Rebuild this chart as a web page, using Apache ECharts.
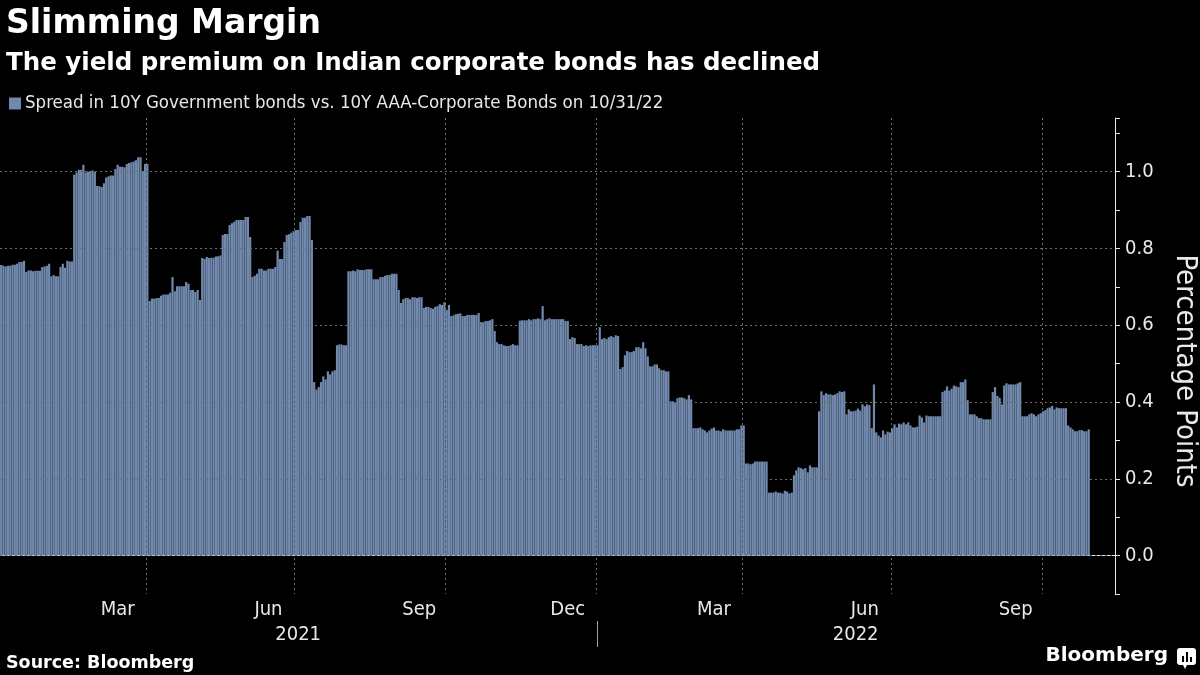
<!DOCTYPE html>
<html>
<head>
<meta charset="utf-8">
<script src="https://cdn.jsdelivr.net/npm/echarts@6/dist/echarts.min.js"></script>
<style>
  html, body { margin: 0; padding: 0; background: #000; }
  #chart { width: 1200px; height: 675px; }
</style>
</head>
<body>
<div id="chart"></div>
<script>
// axis range: business days from the first bar to a little past the last one
const firstDay = '2021-01-01';
const lastAxisDay = '2022-11-15';
const monthNames = ['Jan', 'Feb', 'Mar', 'Apr', 'May', 'Jun', 'Jul', 'Aug', 'Sep', 'Oct', 'Nov', 'Dec'];
const labelMonths = [2, 5, 8, 11];
const gridMonths = [0, 3, 6, 9];
const yLabelValues = [0, 0.2, 0.4, 0.6, 0.8, 1.0];
const seriesName = 'Spread in 10Y Government bonds vs. 10Y AAA-Corporate Bonds on 10/31/22';

// values, one per business day
const spreadJanMar21 = [
  0.757, 0.755, 0.753, 0.755, 0.755, 0.758, 0.758, 0.760, 0.765, 0.765,
  0.768, 0.739, 0.743, 0.743, 0.741, 0.742, 0.742, 0.742, 0.752, 0.753,
  0.755, 0.760, 0.728, 0.731, 0.728, 0.728, 0.752, 0.760, 0.750, 0.768,
  0.766, 0.766, 0.992, 0.998, 1.005, 1.005, 1.018, 0.998, 1.000, 1.002,
  1.003, 1.000, 0.963, 0.962, 0.960, 0.970, 0.985, 0.988, 0.990, 0.990,
  1.007, 1.018, 1.013, 1.013, 1.012, 1.020, 1.023, 1.025, 1.027, 1.030,
  1.038, 1.038, 1.002, 1.020, 1.020
];
const spreadAprJul21 = [
  0.663, 0.670, 0.669, 0.671, 0.671, 0.677, 0.680, 0.680, 0.680, 0.685,
  0.726, 0.689, 0.702, 0.702, 0.702, 0.702, 0.713, 0.708, 0.692, 0.692,
  0.687, 0.692, 0.666, 0.775, 0.773, 0.778, 0.775, 0.776, 0.776, 0.779,
  0.780, 0.782, 0.835, 0.838, 0.838, 0.861, 0.866, 0.870, 0.874, 0.874,
  0.874, 0.874, 0.882, 0.882, 0.830, 0.726, 0.729, 0.734, 0.747, 0.747,
  0.743, 0.743, 0.747, 0.747, 0.747, 0.752, 0.794, 0.773, 0.773, 0.817,
  0.835, 0.837, 0.841, 0.845, 0.848, 0.848, 0.869, 0.880, 0.880, 0.885,
  0.885, 0.822
];
const spreadJulOct21 = [
  0.452, 0.433, 0.439, 0.452, 0.467, 0.459, 0.480, 0.472, 0.480, 0.483,
  0.548, 0.550, 0.550, 0.548, 0.548, 0.741, 0.741, 0.743, 0.741, 0.746,
  0.744, 0.744, 0.744, 0.746, 0.746, 0.746, 0.720, 0.720, 0.720, 0.726,
  0.726, 0.729, 0.731, 0.731, 0.734, 0.734, 0.734, 0.692, 0.658, 0.668,
  0.671, 0.671, 0.668, 0.673, 0.673, 0.671, 0.673, 0.673, 0.645, 0.648,
  0.648, 0.645, 0.643, 0.648, 0.650, 0.655, 0.653, 0.660, 0.640, 0.653,
  0.624, 0.626, 0.629
];
const spreadOct21Jan22 = [
  0.630, 0.631, 0.624, 0.624, 0.627, 0.627, 0.627, 0.627, 0.627, 0.632,
  0.608, 0.608, 0.611, 0.611, 0.613, 0.616,
  0.585, 0.556, 0.551, 0.551, 0.548, 0.546, 0.546, 0.548, 0.551, 0.548, 0.548,
  0.612, 0.613, 0.613, 0.613, 0.616, 0.613, 0.616, 0.616, 0.618, 0.616, 0.650,
  0.613, 0.616, 0.618, 0.616, 0.616, 0.616, 0.616, 0.616, 0.616, 0.611, 0.611,
  0.564, 0.569, 0.567, 0.551, 0.551, 0.551, 0.546, 0.548, 0.546, 0.548, 0.548,
  0.548, 0.548,
  0.595, 0.564, 0.567, 0.564, 0.569, 0.572, 0.569, 0.574, 0.572
];
const spreadJanApr22 = [
  0.486, 0.491, 0.522, 0.533, 0.530, 0.530, 0.533, 0.543, 0.543, 0.540,
  0.556, 0.540, 0.519, 0.493, 0.493, 0.498, 0.498, 0.488, 0.483, 0.483, 0.480, 0.480,
  0.402, 0.402, 0.399, 0.410, 0.412, 0.412, 0.410, 0.407, 0.418, 0.407,
  0.332, 0.332, 0.332, 0.334, 0.329, 0.326, 0.321, 0.326, 0.331, 0.334,
  0.326, 0.326, 0.324, 0.329, 0.326, 0.326, 0.326, 0.326, 0.326, 0.329,
  0.329, 0.339, 0.339,
  0.240, 0.240, 0.238, 0.240, 0.245, 0.245, 0.245, 0.245, 0.245, 0.245,
  0.164, 0.164, 0.164, 0.167, 0.164
];
const spreadMayJul22 = [
  0.164, 0.162, 0.169, 0.167, 0.162, 0.164,
  0.209, 0.222, 0.230, 0.228, 0.225, 0.228, 0.217, 0.235, 0.230, 0.230, 0.230,
  0.376, 0.428, 0.418, 0.423, 0.420, 0.420, 0.418, 0.420, 0.423, 0.428, 0.426, 0.428,
  0.368, 0.381, 0.376, 0.376, 0.378, 0.383, 0.378, 0.394, 0.389, 0.394, 0.392,
  0.332, 0.446, 0.321, 0.313, 0.308, 0.326, 0.316, 0.323, 0.321, 0.332,
  0.342, 0.334, 0.344, 0.342, 0.347, 0.342, 0.347, 0.339, 0.334, 0.334, 0.336,
  0.365, 0.360, 0.347, 0.365, 0.363, 0.363, 0.363, 0.363, 0.363
];
const spreadJulOct22 = [
  0.363, 0.426, 0.430, 0.441, 0.430, 0.435, 0.443, 0.441, 0.439, 0.452, 0.452, 0.459,
  0.405, 0.368, 0.368, 0.368, 0.363, 0.358, 0.358, 0.355, 0.355, 0.355, 0.355,
  0.426, 0.439, 0.416, 0.411, 0.394, 0.443, 0.449, 0.446, 0.446, 0.446, 0.446, 0.449, 0.452,
  0.363, 0.363, 0.363, 0.368, 0.371, 0.368, 0.363, 0.368, 0.371, 0.376,
  0.379, 0.384, 0.386, 0.390, 0.381, 0.386, 0.384, 0.384, 0.384, 0.384,
  0.339, 0.334, 0.329, 0.324, 0.324, 0.327, 0.327, 0.324, 0.324, 0.329
];

const spread = [].concat(spreadJanMar21, spreadAprJul21, spreadJulOct21,
  spreadOct21Jan22, spreadJanApr22, spreadMayJul22, spreadJulOct22);

// business-day calendar for the category axis
const days = [];
const endDay = new Date(lastAxisDay + 'T00:00:00Z');
for (let d = new Date(firstDay + 'T00:00:00Z'); d <= endDay; d.setUTCDate(d.getUTCDate() + 1)) {
  const wd = d.getUTCDay();
  if (wd !== 0 && wd !== 6) days.push(d.toISOString().slice(0, 10));
}

const monthOf = i => +days[i].slice(5, 7) - 1;
const dayOf = i => +days[i].slice(8, 10);
const isMonthStart = i => i > 0 && monthOf(i) !== monthOf(i - 1);
const isGridStart = i => isMonthStart(i) && gridMonths.includes(monthOf(i));
const isMonthLabel = i => i > 0 && labelMonths.includes(monthOf(i)) && dayOf(i) >= 15 && dayOf(i - 1) < 15;
const isYearStart = i => i > 0 && days[i].slice(0, 4) !== days[i - 1].slice(0, 4);

// year labels sit in the middle of each year's visible span
const yearMids = [];
{
  let start = 0;
  for (let i = 1; i <= days.length; i++) {
    if (i === days.length || isYearStart(i)) {
      yearMids.push(Math.round((start + i - 1) / 2));
      start = i;
    }
  }
}

const textColor = '#e8e8e8';
const gridColor = '#6e6e6e';
const fontMain = '"DejaVu Sans Condensed", "DejaVu Sans", sans-serif';

const chart = echarts.init(document.getElementById('chart'));

const option = {
  backgroundColor: '#000',
  animation: false,
  title: [
    {
      text: 'Slimming Margin',
      left: 1,
      top: 3,
      textStyle: { color: '#fff', fontSize: 33, fontWeight: 'bold', fontFamily: 'DejaVu Sans' }
    },
    {
      text: 'The yield premium on Indian corporate bonds has declined',
      left: 1,
      top: 46,
      textStyle: { color: '#fff', fontSize: 24.5, fontWeight: 'bold', fontFamily: 'DejaVu Sans' }
    },
    {
      text: 'Source: Bloomberg',
      left: 1,
      top: 649,
      textStyle: { color: '#fff', fontSize: 17.5, fontWeight: 'bold', fontFamily: 'DejaVu Sans' }
    }
  ],
  legend: {
    data: [seriesName],
    left: 4,
    top: 89,
    icon: 'rect',
    itemWidth: 12,
    itemHeight: 12,
    itemGap: 4,
    textStyle: { color: textColor, fontSize: 18.5, fontFamily: fontMain, padding: [0, 0, 0, -1] }
  },
  grid: {
    left: 0,
    right: 85,
    top: 118,
    bottom: 81,
    containLabel: false,
    outerBoundsMode: 'none'
  },
  xAxis: [
    {
      type: 'category',
      data: days,
      boundaryGap: true,
      axisLine: { lineStyle: { color: textColor, width: 1 } },
      axisTick: { interval: isMonthStart, alignWithLabel: true, length: 5, lineStyle: { color: textColor } },
      axisLabel: {
        interval: isMonthLabel,
        formatter: v => monthNames[+v.slice(5, 7) - 1],
        color: textColor,
        fontSize: 20,
        fontFamily: fontMain,
        margin: 6
      },
      splitLine: { show: true, interval: isGridStart, lineStyle: { color: gridColor, type: [2, 3], width: 1 } }
    },
    {
      type: 'category',
      data: days,
      position: 'bottom',
      offset: 27,
      axisLine: { show: false },
      axisTick: {
        show: true,
        interval: isYearStart,
        alignWithLabel: true,
        length: 26,
        lineStyle: { color: '#a0a0a0', width: 1 }
      },
      axisLabel: {
        interval: i => yearMids.includes(i),
        formatter: v => v.slice(0, 4),
        color: textColor,
        fontSize: 20,
        fontFamily: fontMain,
        margin: 4
      },
      splitLine: { show: false }
    }
  ],
  yAxis: {
    type: 'value',
    position: 'right',
    min: -0.1,
    max: 1.14,
    interval: 0.1,
    axisLine: { show: true, lineStyle: { color: textColor } },
    axisTick: { show: true, length: 5, lineStyle: { color: textColor } },
    axisLabel: {
      color: textColor,
      fontSize: 20,
      fontFamily: fontMain,
      margin: 10,
      formatter: v => {
        const k = Math.round(v * 10);
        return (k >= 0 && k % 2 === 0 && Math.abs(v * 10 - k) < 1e-6) ? v.toFixed(1) : '';
      }
    },
    splitLine: { show: false }
  },
  series: [
    {
      name: 'grid',
      type: 'line',
      data: [],
      z: 1,
      silent: true,
      markLine: {
        symbol: 'none',
        silent: true,
        label: { show: false },
        lineStyle: { color: gridColor, type: [2, 3], width: 1 },
        data: yLabelValues.map(v => ({ yAxis: v }))
      }
    },
    {
      name: seriesName,
      type: 'bar',
      data: spread,
      z: 2,
      barWidth: '96%',
      itemStyle: { color: '#7189ad' }
    }
  ],
  graphic: [
    {
      type: 'text',
      x: 1185,
      y: 371,
      rotation: -Math.PI / 2,
      style: {
        text: 'Percentage Points',
        fill: textColor,
        font: '29px "DejaVu Sans Condensed", "DejaVu Sans", sans-serif',
        align: 'center',
        verticalAlign: 'middle'
      }
    },
    {
      type: 'text',
      right: 32,
      top: 646,
      style: { text: 'Bloomberg', fill: '#fff', font: 'bold 20px "DejaVu Sans"' }
    },
    {
      type: 'group',
      right: 4,
      top: 648,
      children: [
        { type: 'rect', shape: { x: 0, y: 0, width: 19, height: 17, r: 3 }, style: { fill: '#fff' } },
        { type: 'polygon', shape: { points: [[6, 17], [10, 17], [8, 21]] }, style: { fill: '#fff' } },
        { type: 'rect', shape: { x: 5, y: 8, width: 2, height: 6 }, style: { fill: '#000' } },
        { type: 'rect', shape: { x: 9, y: 4, width: 2, height: 10 }, style: { fill: '#000' } },
        { type: 'rect', shape: { x: 13, y: 9, width: 2, height: 5 }, style: { fill: '#000' } }
      ]
    }
  ]
};

chart.setOption(option);
</script>
</body>
</html>
